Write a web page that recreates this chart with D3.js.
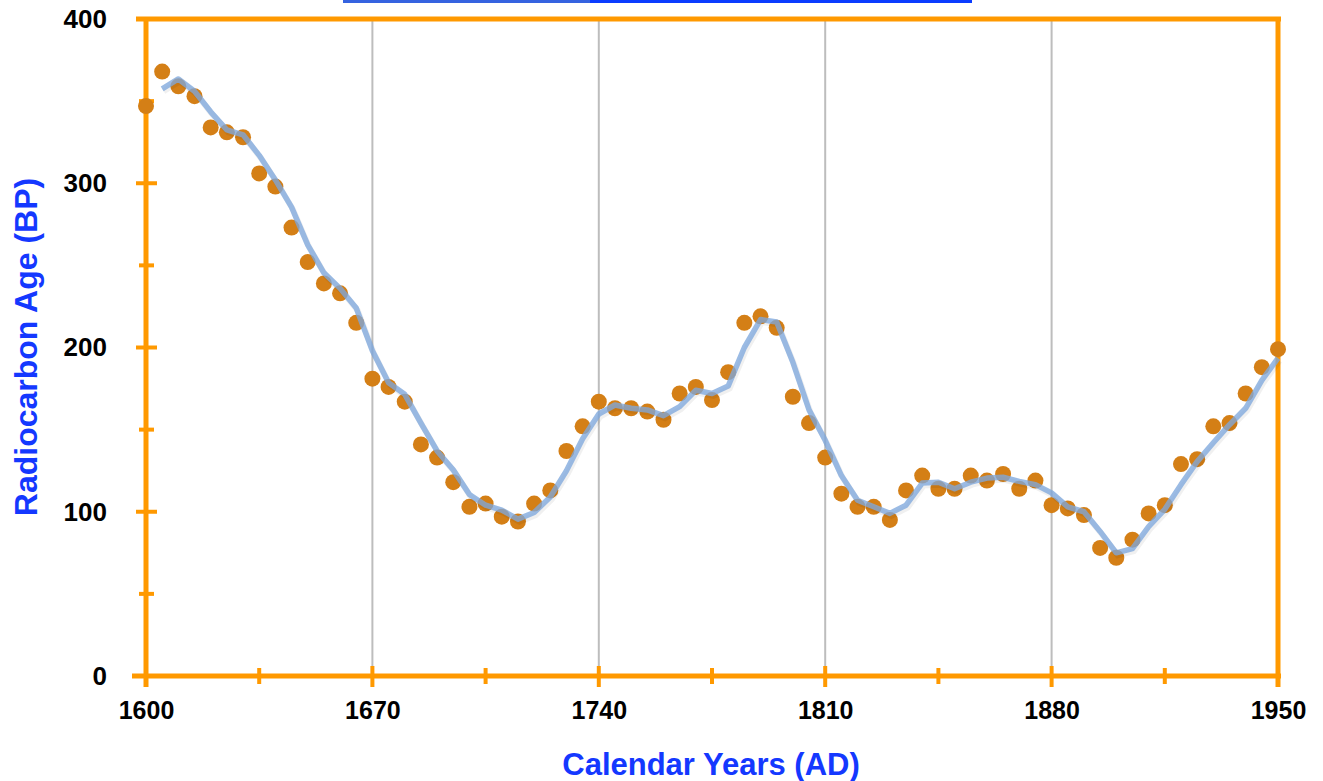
<!DOCTYPE html>
<html>
<head>
<meta charset="utf-8">
<script src="https://cdn.jsdelivr.net/npm/d3@7"></script>
<style>
html,body{margin:0;padding:0;background:#fff;}
svg{display:block;}
</style>
</head>
<body>
<svg id="chart" width="1323" height="781"></svg>
<script>
const years = [1600,1605,1610,1615,1620,1625,1630,1635,1640,1645,1650,1655,1660,1665,1670,1675,1680,1685,1690,1695,
  1700,1705,1710,1715,1720,1725,1730,1735,1740,1745,1750,1755,1760,1765,1770,1775,1780,1785,1790,1795,
  1800,1805,1810,1815,1820,1825,1830,1835,1840,1845,1850,1855,1860,1865,1870,1875,1880,1885,1890,1895,
  1900,1905,1910,1915,1920,1925,1930,1935,1940,1945,1950];
const radiocarbonAge = [347,368,359,353,334,331,328,306,298,273,252,239,233,215,181,176,167,141,133,118,
  103,105,97,94,105,113,137,152,167,163,163,161,156,172,176,168,185,215,219,212,
  170,154,133,111,103,103,95,113,122,114,114,122,119,123,114,119,104,102,98,78,
  72,83,99,104,129,132,152,154,172,188,199];
const smoothYears = [1605,1610,1615,1620,1625,1630,1635,1640,1645,1650,1655,1660,1665,1670,1675,1680,1685,1690,1695,
  1700,1705,1710,1715,1720,1725,1730,1735,1740,1745,1750,1755,1760,1765,1770,1775,1780,1785,1790,1795,
  1800,1805,1810,1815,1820,1825,1830,1835,1840,1845,1850,1855,1860,1865,1870,1875,1880,1885,1890,1895,
  1900,1905,1910,1915,1920,1925,1930,1935,1940,1945,1950];
const smoothAge = [357.5,363.5,356,343.5,332.5,329.5,317,302,285.5,262.5,245.5,236,224,198,178.5,171.5,154,137,125.5,
  110.5,104,101,95.5,99.5,109,125,144.5,159.5,165,163,162,158.5,164,174,172,176.5,200,217,215.5,
  191,162,143.5,122,107,103,99,104,117.5,118,114,118,120.5,121,118.5,116.5,111.5,103,100,88,
  75,77.5,91,101.5,116.5,130.5,142,153,163,180,193.5];
const xMajorTicks = [1600,1670,1740,1810,1880,1950];
const xMinorTicks = [1635,1705,1775,1845,1915];
const xGridTicks = [1670,1740,1810,1880];
const yMajorTicks = [0,100,200,300,400];
const yMinorTicks = [50,150,250,350];
const xTitle = "Calendar Years (AD)";
const yTitle = "Radiocarbon Age (BP)";

const svg = d3.select("#chart");
const x = d3.scaleLinear().domain([1600,1950]).range([146,1278]);
const y = d3.scaleLinear().domain([0,400]).range([676,19]);
const orange = "#FF9900";
const font = "'Liberation Sans', Arial, Helvetica, sans-serif";

// top blue underline (cut-off title link)
svg.append("line").attr("x1",343).attr("x2",590).attr("y1",1.5).attr("y2",1.5)
  .attr("stroke","#3563E0").attr("stroke-width",3);
svg.append("line").attr("x1",590).attr("x2",972).attr("y1",1.5).attr("y2",1.5)
  .attr("stroke","#0A3CFF").attr("stroke-width",3);

// gridlines
svg.append("g").selectAll("line").data(xGridTicks).join("line")
  .attr("x1",d=>x(d)).attr("x2",d=>x(d)).attr("y1",y(400)).attr("y2",y(0))
  .attr("stroke","#BDBDBD").attr("stroke-width",2);

// frame
svg.append("line").attr("x1",136).attr("x2",1281).attr("y1",y(400)).attr("y2",y(400))
  .attr("stroke",orange).attr("stroke-width",5);
svg.append("line").attr("x1",x(1950)).attr("x2",x(1950)).attr("y1",y(400)).attr("y2",687)
  .attr("stroke",orange).attr("stroke-width",5);
svg.append("line").attr("x1",x(1600)).attr("x2",x(1600)).attr("y1",y(400)).attr("y2",687)
  .attr("stroke",orange).attr("stroke-width",5);
svg.append("line").attr("x1",132).attr("x2",1281).attr("y1",y(0)).attr("y2",y(0))
  .attr("stroke",orange).attr("stroke-width",5);

// ticks
const tk = svg.append("g").attr("stroke",orange).attr("stroke-width",4);
tk.selectAll(".ymaj").data(yMajorTicks).join("line").attr("class","ymaj")
  .attr("x1",136).attr("x2",157).attr("y1",d=>y(d)).attr("y2",d=>y(d));
tk.selectAll(".ymin").data(yMinorTicks).join("line").attr("class","ymin")
  .attr("x1",139).attr("x2",154).attr("y1",d=>y(d)).attr("y2",d=>y(d));
tk.selectAll(".xmaj").data(xMajorTicks).join("line").attr("class","xmaj")
  .attr("y1",666).attr("y2",687).attr("x1",d=>x(d)).attr("x2",d=>x(d));
tk.selectAll(".xmin").data(xMinorTicks).join("line").attr("class","xmin")
  .attr("y1",668).attr("y2",684).attr("x1",d=>x(d)).attr("x2",d=>x(d));

// axis labels via d3 axes
const xAxis = svg.append("g").attr("transform",`translate(0,${y(0)})`)
  .call(d3.axisBottom(x).tickValues(xMajorTicks).tickFormat(d3.format("d")).tickSize(0).tickPadding(26));
xAxis.select(".domain").remove();
xAxis.selectAll("text").attr("font-family",font).attr("font-weight","bold")
  .attr("font-size",25).attr("fill","#000").attr("dy","0.71em").attr("y",25);

const yAxis = svg.append("g").attr("transform",`translate(${x(1600)},0)`)
  .call(d3.axisLeft(y).tickValues(yMajorTicks).tickFormat(d3.format("d")).tickSize(0).tickPadding(39));
yAxis.select(".domain").remove();
yAxis.selectAll("text").attr("font-family",font).attr("font-weight","bold")
  .attr("font-size",26).attr("fill","#000");

// points
svg.append("g").selectAll("circle").data(years.map((yr,i)=>[yr,radiocarbonAge[i]])).join("circle")
  .attr("cx",d=>x(d[0])).attr("cy",d=>y(d[1])).attr("r",8).attr("fill","#D47F16");

// smoothed line with shadow
const line = d3.line().x(d=>x(d[0])).y(d=>y(d[1]));
const sData = smoothYears.map((yr,i)=>[yr,smoothAge[i]]);
svg.append("path").datum(sData).attr("d",line).attr("fill","none")
  .attr("stroke","#000").attr("stroke-opacity",0.06).attr("stroke-width",6)
  .attr("transform","translate(1.5,2.5)");
svg.append("path").datum(sData).attr("d",line).attr("fill","none")
  .attr("stroke","#7FA8DC").attr("stroke-opacity",0.78).attr("stroke-width",5.5)
  .attr("stroke-linejoin","round");

// titles
svg.append("text").attr("x",711).attr("y",775).attr("text-anchor","middle")
  .attr("font-family",font).attr("font-weight","bold").attr("font-size",31)
  .attr("fill","#1438FF").text(xTitle);
svg.append("text").attr("transform","translate(37,347) rotate(-90)").attr("text-anchor","middle")
  .attr("font-family",font).attr("font-weight","bold").attr("font-size",32)
  .attr("fill","#1438FF").text(yTitle);
</script>
</body>
</html>
